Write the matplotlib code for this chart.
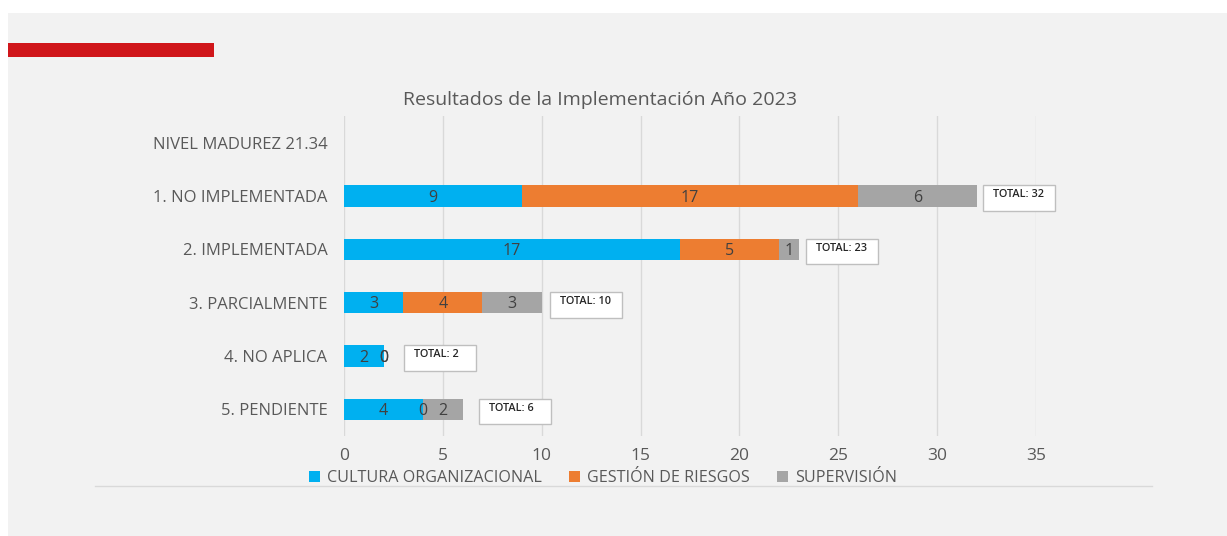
import numpy as np
import matplotlib
matplotlib.use("Agg")
import matplotlib.pyplot as plt
from matplotlib.patches import Rectangle

plt.rcParams['font.family'] = ['Open Sans', 'DejaVu Sans']

# datos del grafico
categorias = ["NIVEL MADUREZ 21.34", "1. NO IMPLEMENTADA", "2. IMPLEMENTADA",
              "3. PARCIALMENTE", "4. NO APLICA", "5. PENDIENTE"]
cultura = [np.nan, 9, 17, 3, 2, 4]
gestion = [np.nan, 17, 5, 4, 0, 0]
supervision = [np.nan, 6, 1, 3, 0, 2]
series_nombres = ["CULTURA ORGANIZACIONAL", "GESTIÓN DE RIESGOS", "SUPERVISIÓN"]
colores = ["#00B0F0", "#ED7D31", "#A5A5A5"]
xticks = [0, 5, 10, 15, 20, 25, 30, 35]

# desplazamiento de las cajas de total (en unidades del eje)
box_gap = [None, 0.3, 0.35, 0.4, 1.05, 0.85]

W, H = 1227, 536
fig = plt.figure(figsize=(W / 100, H / 100), dpi=100)
fig.patch.set_facecolor("white")

# panel gris de fondo y barra roja
fig.add_artist(Rectangle((8 / W, 0), 1 - 8 / W, 1 - 13 / H, transform=fig.transFigure,
                         facecolor="#F2F2F2", edgecolor="none", zorder=-10))
fig.add_artist(Rectangle((8 / W, 1 - 57 / H), 206 / W, 14 / H, transform=fig.transFigure,
                         facecolor="#D0161B", edgecolor="none", zorder=-5))

ax = fig.add_axes([344 / W, 1 - 436 / H, (1036 - 344) / W, (436 - 116) / H])
ax.set_facecolor("none")

y = np.arange(len(categorias))
izq = np.zeros(len(categorias))
for nombre, vals, col in zip(series_nombres, [cultura, gestion, supervision], colores):
    v = np.nan_to_num(np.array(vals, dtype=float))
    ax.barh(y, v, left=izq, height=0.4, color=col, label=nombre, zorder=3)
    for i, val in enumerate(vals):
        if np.isnan(val):
            continue
        ax.text(izq[i] + v[i] / 2, y[i] + 0.03, f"{int(val)}", ha="center", va="center",
                fontsize=11.5, color="#404040", zorder=4)
    izq = izq + v

# cajas de totales
for i, tot in enumerate(izq):
    if box_gap[i] is None:
        continue
    x0 = tot + box_gap[i]
    ax.add_patch(Rectangle((x0, y[i] - 0.2), 3.64, 0.48, facecolor="white",
                           edgecolor="#BFBFBF", linewidth=1, zorder=5, clip_on=False))
    ax.text(x0 + 0.5, y[i] - 0.02, f"TOTAL: {int(tot)}", ha="left", va="center",
            fontsize=7.8, fontweight="semibold", color="#262626", zorder=6, clip_on=False)

ax.set_xlim(0, 35)
ax.set_ylim(len(categorias) - 0.5, -0.5)
ax.set_xticks(xticks)
ax.set_yticks(y)
ax.set_yticklabels(categorias)
ax.grid(axis="x", color="#D9D9D9", linewidth=1, zorder=0)
for s in ax.spines.values():
    s.set_visible(False)
ax.tick_params(axis="both", length=0, colors="#595959", labelsize=12)
ax.tick_params(axis="y", pad=12)
ax.tick_params(axis="x", pad=9, labelsize=12.5)

fig.text(600 / W, 1 - 100 / H, "Resultados de la Implementación Año 2023",
         ha="center", va="center", fontsize=14, color="#595959")

fig.legend(loc="center", bbox_to_anchor=(603 / W, 1 - 478 / H), ncol=3, frameon=False,
           fontsize=11.6, handlelength=0.7, handleheight=0.7, handletextpad=0.4,
           columnspacing=1.7, labelcolor="#595959")

fig.add_artist(plt.Line2D([95 / W, 1152 / W], [1 - 486 / H, 1 - 486 / H],
                          transform=fig.transFigure, color="#D9D9D9", linewidth=1))

fig.savefig("out.png", dpi=100, facecolor=fig.get_facecolor())
